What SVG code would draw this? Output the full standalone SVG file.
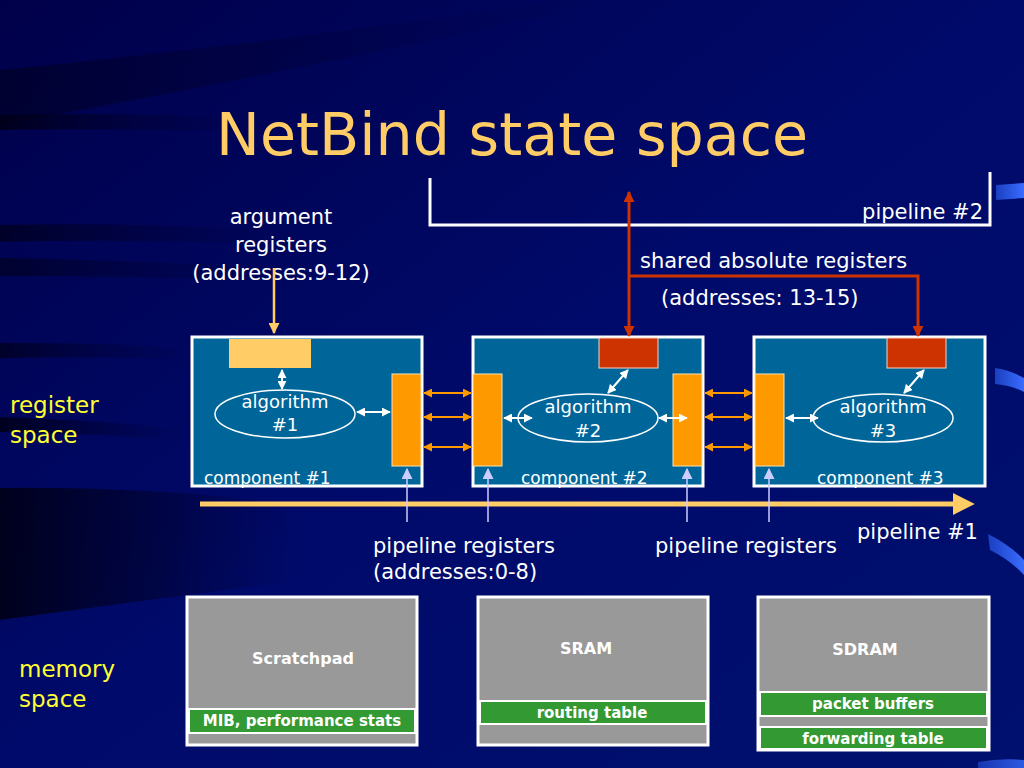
<svg xmlns="http://www.w3.org/2000/svg" width="1024" height="768" viewBox="0 0 1024 768">
<defs>
<linearGradient id="bg" x1="0" y1="0" x2="1" y2="1">
<stop offset="0" stop-color="#00004a"/>
<stop offset="0.5" stop-color="#000a6a"/>
<stop offset="1" stop-color="#00106e"/>
</linearGradient>
<linearGradient id="streak" x1="0" y1="0" x2="1" y2="0">
<stop offset="0" stop-color="#000018" stop-opacity="0.9"/>
<stop offset="0.6" stop-color="#000030" stop-opacity="0.4"/>
<stop offset="1" stop-color="#000040" stop-opacity="0"/>
</linearGradient>
<linearGradient id="dark" x1="0" y1="0" x2="1" y2="0">
<stop offset="0" stop-color="#000010" stop-opacity="0.85"/>
<stop offset="0.5" stop-color="#000020" stop-opacity="0.5"/>
<stop offset="1" stop-color="#000030" stop-opacity="0"/>
</linearGradient>
<linearGradient id="hl" x1="0" y1="0" x2="1" y2="0">
<stop offset="0" stop-color="#1a3fc0"/>
<stop offset="1" stop-color="#3a6cff"/>
</linearGradient>
<marker id="awl" viewBox="0 0 10 10" refX="9" refY="5" markerWidth="9" markerHeight="9" orient="auto-start-reverse" markerUnits="userSpaceOnUse"><path d="M0,0 L10,5 L0,10 z" fill="#ffffff"/></marker>
<marker id="ao" viewBox="0 0 10 10" refX="9" refY="5" markerWidth="9" markerHeight="9" orient="auto-start-reverse" markerUnits="userSpaceOnUse"><path d="M0,0 L10,5 L0,10 z" fill="#ff9900"/></marker>
<marker id="ay" viewBox="0 0 10 10" refX="9" refY="5" markerWidth="11" markerHeight="11" orient="auto" markerUnits="userSpaceOnUse"><path d="M0,0 L10,5 L0,10 z" fill="#ffcc66"/></marker>
<marker id="ayb" viewBox="0 0 10 10" refX="6" refY="5" markerWidth="22" markerHeight="22" orient="auto" markerUnits="userSpaceOnUse"><path d="M0,0 L10,5 L0,10 z" fill="#ffcc66"/></marker>
<marker id="ar" viewBox="0 0 10 10" refX="9" refY="5" markerWidth="11" markerHeight="11" orient="auto-start-reverse" markerUnits="userSpaceOnUse"><path d="M0,0 L10,5 L0,10 z" fill="#cc3300"/></marker>
<marker id="ap" viewBox="0 0 10 10" refX="9" refY="5" markerWidth="11" markerHeight="11" orient="auto" markerUnits="userSpaceOnUse"><path d="M0,0 L10,5 L0,10 z" fill="#ccccff"/></marker>
</defs>
<style>
text{font-family:"DejaVu Sans","Liberation Sans",sans-serif;fill:#ffffff}
.t{font-size:21px}
.s{font-size:18px}
.cl{font-size:17px}
.y{fill:#ffff33;font-size:23px}
.b{font-weight:bold;font-size:15px;text-anchor:middle}
.bm{font-weight:bold;font-size:16px;text-anchor:middle}
.c{text-anchor:middle}
.comp{fill:#006699;stroke:#ffffff;stroke-width:3}
.mem{fill:#999999;stroke:#ffffff;stroke-width:3}
.grn{fill:#339933;stroke:#ffffff;stroke-width:2}
.bar{fill:#ff9900;stroke:#ffe0b0;stroke-width:1}
.red{fill:#cc3300;stroke:#ffd0c0;stroke-width:1}
.ell{fill:none;stroke:#ffffff;stroke-width:1.5}
.wa{stroke:#ffffff;stroke-width:2;fill:none;marker-start:url(#awl);marker-end:url(#awl)}
.oa{stroke:#ff9900;stroke-width:2;fill:none;marker-start:url(#ao);marker-end:url(#ao)}
.pr{stroke:#ccccff;stroke-width:1.5;fill:none;marker-end:url(#ap)}
</style>
<g id="background">
<rect width="1024" height="768" fill="url(#bg)"/>
<path d="M0,70 Q300,40 560,0 L620,0 Q300,70 0,125 z" fill="url(#streak)" opacity="0.6"/>
<path d="M0,115 Q120,112 260,118 L260,132 Q120,128 0,130 z" fill="url(#streak)"/>
<path d="M0,225 Q150,222 300,232 L300,246 Q150,238 0,242 z" fill="url(#streak)" opacity="0.8"/>
<path d="M0,258 Q150,260 300,270 L300,282 Q150,276 0,276 z" fill="url(#streak)" opacity="0.7"/>
<path d="M0,343 Q120,342 200,350 L200,360 Q120,356 0,358 z" fill="url(#streak)" opacity="0.8"/>
<path d="M0,417 Q100,420 190,430 L190,440 Q100,434 0,432 z" fill="url(#streak)"/>
<path d="M0,488 Q150,486 300,505 L300,580 Q150,600 0,620 z" fill="url(#dark)"/>
<path d="M996,185 L1024,183 L1024,198 L996,200 z" fill="url(#hl)"/>
<path d="M995,368 Q1010,370 1024,378 L1024,392 Q1010,385 995,384 z" fill="url(#hl)"/>
<path d="M988,534 Q1010,545 1024,560 L1024,575 Q1010,560 990,550 z" fill="url(#hl)"/>
<path d="M978,762 Q1000,758 1024,760 L1024,768 L978,768 z" fill="url(#hl)" opacity="0.8"/>
</g>
<g id="title">
<text x="512" y="155" text-anchor="middle" style="font-size:58px;fill:#ffcc66" textLength="592" lengthAdjust="spacingAndGlyphs">NetBind state space</text>
</g>
<g id="labels">
<text class="y" x="10" y="413">register</text>
<text class="y" x="10" y="443">space</text>
<text class="y" x="19" y="677">memory</text>
<text class="y" x="19" y="707">space</text>
<text class="t c" x="281" y="224">argument</text>
<text class="t c" x="281" y="252">registers</text>
<text class="t c" x="281" y="280">(addresses:9-12)</text>
<text class="t" x="983" y="219" text-anchor="end">pipeline #2</text>
<text class="t" x="640" y="268">shared absolute registers</text>
<text class="t" x="661" y="305">(addresses: 13-15)</text>
<text class="t" x="857" y="539">pipeline #1</text>
<text class="t" x="373" y="553">pipeline registers</text>
<text class="t" x="373" y="579">(addresses:0-8)</text>
<text class="t" x="655" y="553">pipeline registers</text>
</g>
<g id="pipeline2">
<polyline points="430,178 430,225 990,225 990,172" fill="none" stroke="#ffffff" stroke-width="3"/>
</g>
<g id="component1">
<rect class="comp" x="192" y="337" width="230" height="149"/>
<rect x="229" y="339" width="82" height="29" fill="#ffcc66"/>
<rect class="bar" x="392" y="374" width="29" height="92"/>
<ellipse class="ell" cx="285" cy="414" rx="70" ry="24"/>
<text class="s c" x="285" y="408">algorithm</text>
<text class="s c" x="285" y="431">#1</text>
<text class="cl" x="204" y="484">component #1</text>
</g>
<g id="component2">
<rect class="comp" x="473" y="337" width="230" height="149"/>
<rect class="red" x="599" y="338" width="59" height="30"/>
<rect class="bar" x="473" y="374" width="29" height="92"/>
<rect class="bar" x="673" y="374" width="29" height="92"/>
<ellipse class="ell" cx="588" cy="418" rx="70" ry="24"/>
<text class="s c" x="588" y="413">algorithm</text>
<text class="s c" x="588" y="437">#2</text>
<text class="cl" x="521" y="484">component #2</text>
</g>
<g id="component3">
<rect class="comp" x="754" y="337" width="231" height="149"/>
<rect class="red" x="887" y="338" width="59" height="30"/>
<rect class="bar" x="755" y="374" width="29" height="92"/>
<ellipse class="ell" cx="883" cy="418" rx="70" ry="24"/>
<text class="s c" x="883" y="413">algorithm</text>
<text class="s c" x="883" y="437">#3</text>
<text class="cl" x="817" y="484">component #3</text>
</g>
<g id="scratchpad">
<rect class="mem" x="187" y="597" width="230" height="148"/>
<rect class="grn" x="189" y="709" width="226" height="24"/>
<text class="bm" x="303" y="664">Scratchpad</text>
<text class="b" x="302" y="726">MIB, performance stats</text>
</g>
<g id="sram">
<rect class="mem" x="478" y="597" width="230" height="148"/>
<rect class="grn" x="480" y="701" width="226" height="23"/>
<text class="bm" x="586" y="654">SRAM</text>
<text class="b" x="592" y="718">routing table</text>
</g>
<g id="sdram">
<rect class="mem" x="758" y="597" width="231" height="153"/>
<rect class="grn" x="760" y="692" width="227" height="24"/>
<rect class="grn" x="760" y="727" width="227" height="22"/>
<text class="bm" x="865" y="655">SDRAM</text>
<text class="b" x="873" y="709">packet buffers</text>
<text class="b" x="873" y="744">forwarding table</text>
</g>
<g id="connectors">
<line x1="274" y1="268" x2="274" y2="333" stroke="#ffcc66" stroke-width="2.5" marker-end="url(#ay)"/>
<polyline points="629,192 629,336" fill="none" stroke="#cc3300" stroke-width="3" marker-start="url(#ar)" marker-end="url(#ar)"/>
<polyline points="629,276 918,276 918,336" fill="none" stroke="#cc3300" stroke-width="3" marker-end="url(#ar)"/>
<line class="wa" x1="282" y1="370" x2="282" y2="389"/>
<line class="wa" x1="357" y1="412" x2="390" y2="412"/>
<line class="wa" x1="504" y1="418" x2="532" y2="418"/>
<line class="wa" x1="659" y1="418" x2="687" y2="418"/>
<line class="wa" x1="628" y1="370" x2="608" y2="393"/>
<line class="wa" x1="924" y1="370" x2="904" y2="393"/>
<line class="wa" x1="786" y1="418" x2="818" y2="418"/>
<line class="oa" x1="424" y1="393" x2="471" y2="393"/>
<line class="oa" x1="424" y1="417" x2="471" y2="417"/>
<line class="oa" x1="424" y1="447" x2="471" y2="447"/>
<line class="oa" x1="705" y1="393" x2="752" y2="393"/>
<line class="oa" x1="705" y1="417" x2="752" y2="417"/>
<line class="oa" x1="705" y1="447" x2="752" y2="447"/>
<line x1="200" y1="504" x2="966" y2="504" stroke="#ffcc66" stroke-width="5" marker-end="url(#ayb)"/>
<line class="pr" x1="407" y1="522" x2="407" y2="469"/>
<line class="pr" x1="488" y1="522" x2="488" y2="469"/>
<line class="pr" x1="687" y1="522" x2="687" y2="469"/>
<line class="pr" x1="769" y1="522" x2="769" y2="469"/>
</g>
</svg>
